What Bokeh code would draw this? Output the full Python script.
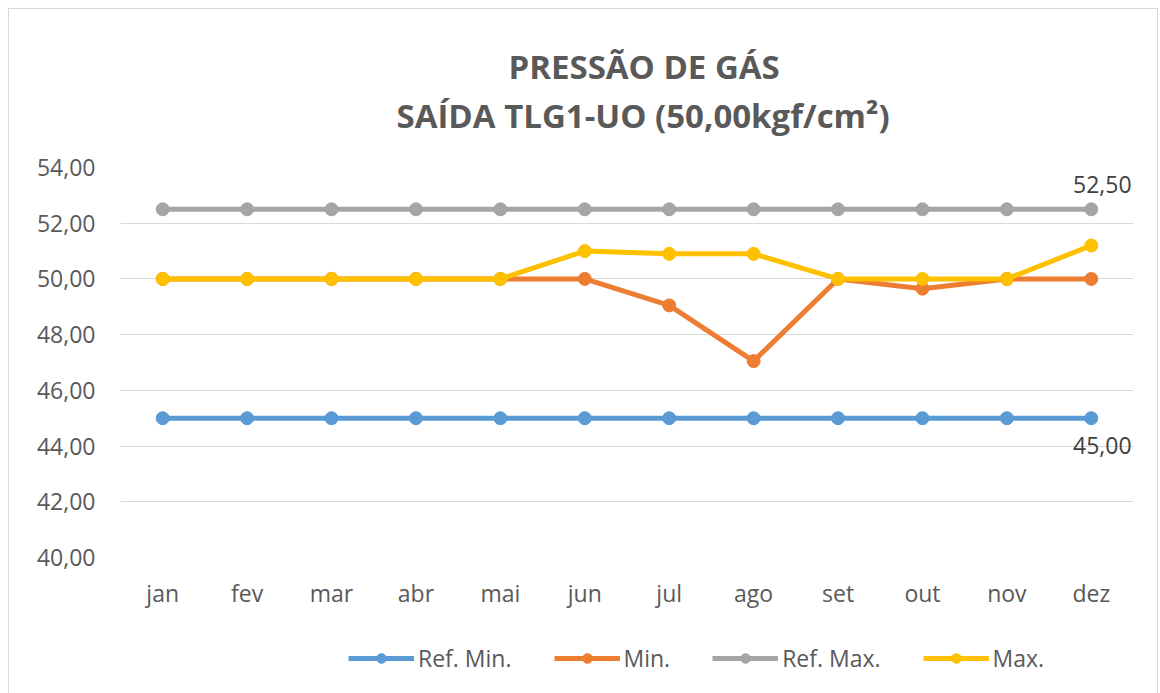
from bokeh.plotting import figure
from bokeh.layouts import column
from bokeh.models import FactorRange, Range1d, Legend, LegendItem, ColumnDataSource, Title
from bokeh.core.properties import value
from bokeh.embed import file_html
from bokeh.resources import INLINE

months = ["jan", "fev", "mar", "abr", "mai", "jun", "jul", "ago", "set", "out", "nov", "dez"]
ref_min = [45.0] * 12
min_vals = [50.0, 50.0, 50.0, 50.0, 50.0, 50.0, 49.05, 47.05, 50.0, 49.65, 50.0, 50.0]
ref_max = [52.5] * 12
max_vals = [50.0, 50.0, 50.0, 50.0, 50.0, 51.0, 50.9, 50.9, 50.0, 50.0, 50.0, 51.2]
y_ticks = [40, 42, 44, 46, 48, 50, 52, 54]
title_lines = ["PRESSÃO DE GÁS", "SAÍDA TLG1-UO (50,00kgf/cm²)"]

FONT = "Open Sans"
TXT = "#595959"

p = figure(
    width=1148, height=618,
    x_range=FactorRange(*months), y_range=Range1d(40, 54),
    output_backend="svg", toolbar_location=None,
    min_border_left=111, min_border_right=24, min_border_top=158, min_border_bottom=70,
)
p.frame_width = 1013
p.frame_height = 390
p.outline_line_color = None
p.background_fill_color = "white"
p.border_fill_color = "white"

p.xgrid.grid_line_color = None
p.ygrid.grid_line_color = "#d9d9d9"
p.ygrid.grid_line_width = 1
p.yaxis.ticker = y_ticks
p.yaxis.major_label_overrides = {t: f"{t:.2f}".replace(".", ",") for t in y_ticks}
for ax in (p.xaxis[0], p.yaxis[0]):
    ax.axis_line_color = None
    ax.major_tick_line_color = None
    ax.minor_tick_line_color = None
    ax.major_tick_out = 0
    ax.major_tick_in = 0
    ax.major_label_text_font = FONT
    ax.major_label_text_font_size = "23px"
    ax.major_label_text_color = TXT
p.yaxis.major_label_standoff = 25
p.xaxis.major_label_standoff = 19

# separate strip for the legend (its data lies outside its own y range, so only the legend shows)
lf = figure(
    width=1148, height=66, title=None,
    x_range=FactorRange(*months), y_range=Range1d(0, 1),
    output_backend="svg", toolbar_location=None,
    x_axis_location=None, y_axis_location=None,
    min_border_left=0, min_border_right=0, min_border_top=0, min_border_bottom=0,
)
lf.outline_line_color = None
lf.grid.visible = False
lf.background_fill_color = "white"
lf.border_fill_color = "white"

series = [
    ("Ref. Min.", ref_min, "#5B9BD5"),
    ("Min.", min_vals, "#ED7D31"),
    ("Ref. Max.", ref_max, "#A5A5A5"),
    ("Max.", max_vals, "#FFC000"),
]
items = []
for name, vals, col in series:
    src = ColumnDataSource(dict(x=months, y=vals))
    p.line("x", "y", source=src, line_color=col, line_width=5)
    p.scatter("x", "y", source=src, size=13, fill_color=col, line_color=col)
    l = lf.line("x", "y", source=src, line_color=col, line_width=5)
    c = lf.scatter("x", "y", source=src, size=11, fill_color=col, line_color=col)
    items.append(LegendItem(label=name, renderers=[l, c]))

legend = Legend(items=items, orientation="horizontal", location=(228, 19))
legend.background_fill_alpha = 0
legend.border_line_color = None
legend.glyph_width = 66
legend.glyph_height = 24
legend.label_text_font = FONT
legend.label_text_font_size = "23px"
legend.label_text_color = TXT
legend.label_standoff = 4
legend.spacing = 42
legend.padding = 0
legend.margin = 0
lf.add_layout(legend, "center")

lab_src = ColumnDataSource(dict(x=[months[-1], months[-1]], y=[ref_max[-1], ref_min[-1]],
                                t=[f"{ref_max[-1]:.2f}".replace(".", ","), f"{ref_min[-1]:.2f}".replace(".", ",")],
                                off=[-25, 27]))
p.text("x", "y", text="t", source=lab_src, x_offset=11, y_offset="off", text_baseline="middle",
       text_align="center", text_font=value(FONT), text_font_size="23px", text_color="#404040")

p.add_layout(Title(text=title_lines[1], align="left", offset=276, standoff=59, text_font=FONT,
                   text_font_style="bold", text_font_size="33px", text_color=TXT), "above")
p.add_layout(Title(text=title_lines[0], align="left", offset=388, standoff=-55, text_font=FONT,
                   text_font_style="bold", text_font_size="33px", text_color=TXT), "above")

layout = column(p, lf, spacing=0)
layout.styles = {"border": "1px solid #d9d9d9", "margin-left": "8px", "margin-top": "8px"}

open("out.html", "w").write(file_html(layout, INLINE))
